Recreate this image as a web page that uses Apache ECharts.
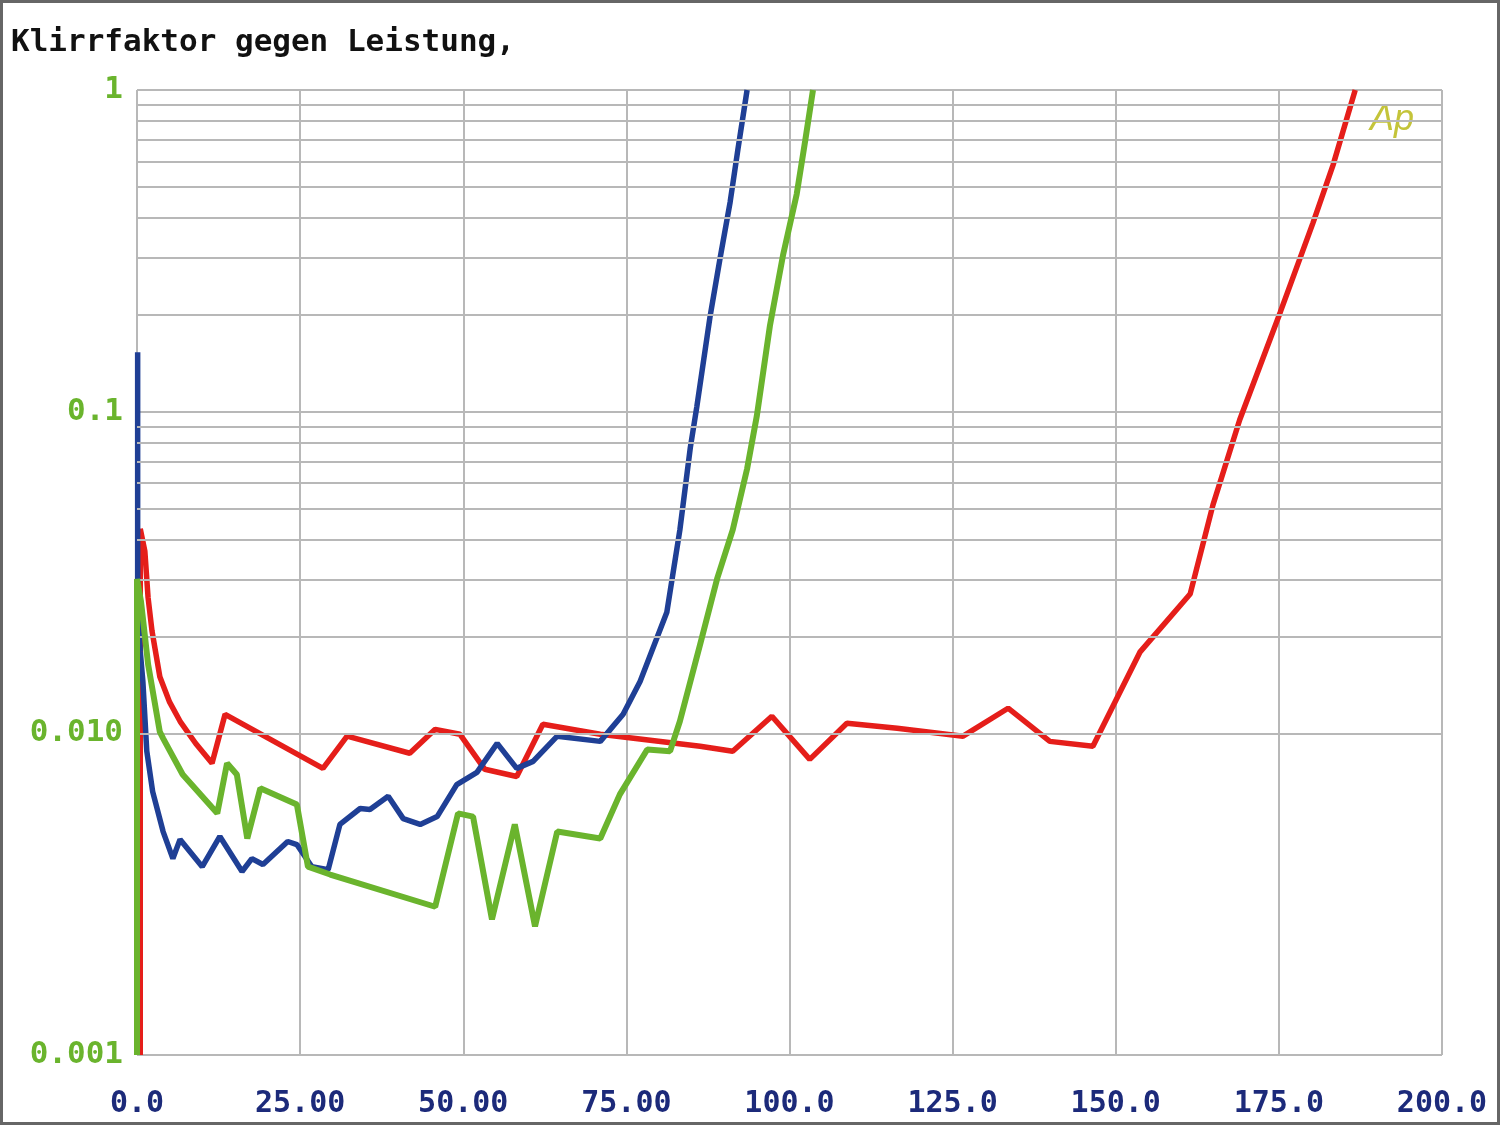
<!DOCTYPE html>
<html>
<head>
<meta charset="utf-8">
<script src="https://cdn.jsdelivr.net/npm/echarts@6/dist/echarts.min.js"></script>
<style>
html,body{margin:0;padding:0;background:#fff;}
#chart{width:1500px;height:1125px;}
</style>
</head>
<body>
<div id="chart"></div>
<script>
// Klirrfaktor (THD) vs Leistung (power)
var titleText = 'Klirrfaktor gegen Leistung,';
var xTickLabels = ['0.0','25.00','50.00','75.00','100.0','125.0','150.0','175.0','200.0'];
var yTickLabels = {'1':'1','0.1':'0.1','0.01':'0.010','0.001':'0.001'};
var minorGridValues = [0.002,0.003,0.004,0.005,0.006,0.007,0.008,0.009,
                       0.02,0.03,0.04,0.05,0.06,0.07,0.08,0.09,
                       0.2,0.3,0.4,0.5,0.6,0.7,0.8,0.9];

var redX = [0.5,0.5,1.2,1.7,2.3,3.5,5.0,6.6,9.0,11.5,13.5,28.5,32.2,41.8,45.7,49.5,53.3,58.2,62.2,71.0,86.3,91.3,97.3,103.1,108.8,116.5,126.6,133.5,139.9,146.5,153.7,161.4,164.9,169.0,175.2,180.2,183.3,186.7];
var redY = [0.001,0.0432,0.0369,0.0264,0.0208,0.0150,0.0125,0.0109,0.0093,0.00807,0.01146,0.00778,0.0098,0.00867,0.01029,0.00993,0.00773,0.00734,0.01067,0.00993,0.00912,0.0088,0.0113,0.0083,0.01075,0.01037,0.0098,0.01197,0.00944,0.00912,0.01788,0.0271,0.0513,0.0944,0.2035,0.385,0.584,1.0];

var blueX = [0.1,0.1,0.5,0.9,1.5,2.4,4.0,5.5,6.6,10.0,12.7,16.1,17.6,19.3,23.1,24.5,26.8,29.3,31.1,34.2,35.7,38.5,40.8,43.4,46.0,49.0,52.1,55.2,58.2,60.7,64.4,71.0,74.5,77.1,81.2,83.2,84.8,85.8,87.8,89.3,90.9,92.1,93.5];
var blueY = [0.153,0.0245,0.018,0.0145,0.0088,0.00659,0.00495,0.00408,0.00468,0.00385,0.00478,0.00372,0.00408,0.00391,0.00461,0.00451,0.00385,0.00377,0.00521,0.00584,0.0058,0.00637,0.00543,0.00521,0.00551,0.00693,0.00756,0.00931,0.00778,0.00818,0.0098,0.00944,0.01146,0.0145,0.0238,0.0429,0.0773,0.1037,0.196,0.295,0.448,0.655,1.0];

var greenX = [0.0,0.0,0.6,1.7,3.5,4.0,7.0,12.3,13.8,15.3,16.9,18.9,24.5,26.2,29.6,45.7,49.2,51.5,54.4,57.9,61.0,64.4,71.0,74.0,78.2,81.7,83.2,86.3,88.9,91.3,93.5,95.0,97.0,99.0,101.1,102.4,103.6];
var greenY = [0.001,0.0302,0.0258,0.0164,0.0101,0.00965,0.00745,0.00564,0.00807,0.00745,0.00471,0.00675,0.00601,0.00385,0.00364,0.00289,0.00564,0.00551,0.00264,0.00521,0.00251,0.00495,0.00471,0.00646,0.00891,0.0088,0.0109,0.0189,0.0302,0.0429,0.0664,0.0972,0.185,0.306,0.474,0.694,1.0];

function zip(xs, ys){ return xs.map(function(x,i){ return [x, ys[i]]; }); }

var gridColor = '#b8b8b8';
var monoFont = 'DejaVu Sans Mono';

var chart = echarts.init(document.getElementById('chart'), null, {renderer:'canvas'});
chart.setOption({
  animation: false,
  backgroundColor: '#ffffff',
  title: {
    text: titleText, left: 6, top: 22,
    textStyle: {fontFamily: monoFont, fontSize: 31, fontWeight: 'bold', color: '#111'}
  },
  grid: {left: 137, right: 58, top: 90, bottom: 70, containLabel: false},
  xAxis: {
    type: 'value', min: 0, max: 200, interval: 25,
    axisLine: {show: false}, axisTick: {show: false},
    splitLine: {show: true, lineStyle: {color: gridColor, width: 2}},
    axisLabel: {
      margin: 34, color: '#1c2a7a', fontFamily: monoFont, fontSize: 30, fontWeight: 'bold',
      formatter: function(v){ return xTickLabels[Math.round(v/25)] || ''; }
    }
  },
  yAxis: {
    type: 'log', logBase: 10, min: 0.001, max: 1,
    axisLine: {show: false}, axisTick: {show: false},
    splitLine: {show: true, lineStyle: {color: gridColor, width: 2}},
    axisLabel: {
      margin: 14, color: '#6ab42d', fontFamily: monoFont, fontSize: 31, fontWeight: 'bold',
      formatter: function(v){
        var k = String(parseFloat(Number(v).toPrecision(3)));
        return yTickLabels[k] !== undefined ? yTickLabels[k] : '';
      }
    }
  },
  graphic: [
    {type: 'rect', shape: {x: 1.5, y: 1.5, width: 1497, height: 1122}, style: {fill: 'none', stroke: '#666', lineWidth: 3}, silent: true, z: 100},
    {type: 'text', left: 1370, top: 102, style: {text: 'Ap', fill: '#c4c43a', font: 'italic 36px Liberation Sans'}, silent: true}
  ],
  series: [
    {
      name: 'grid-minor', type: 'line', data: [], z: 1, silent: true,
      markLine: {
        silent: true, symbol: ['none','none'], label: {show: false}, animation: false,
        lineStyle: {color: gridColor, width: 2, type: 'solid'},
        data: minorGridValues.map(function(v){ return {yAxis: v}; })
      }
    },
    {name: 'red', type: 'line', data: zip(redX, redY), showSymbol: false, z: 3,
     lineStyle: {color: '#e51e1a', width: 5.5}, itemStyle: {color: '#e51e1a'}},
    {name: 'blue', type: 'line', data: zip(blueX, blueY), showSymbol: false, z: 4,
     lineStyle: {color: '#1f3f95', width: 5.5}, itemStyle: {color: '#1f3f95'}},
    {name: 'green', type: 'line', data: zip(greenX, greenY), showSymbol: false, z: 5,
     lineStyle: {color: '#6ab42d', width: 6}, itemStyle: {color: '#6ab42d'}}
  ]
});
</script>
</body>
</html>
